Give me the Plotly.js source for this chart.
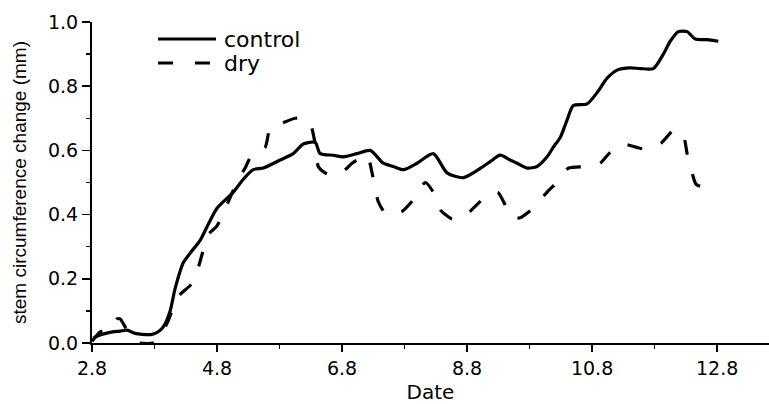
<!DOCTYPE html>
<html>
<head>
<meta charset="utf-8">
<script src="https://cdn.plot.ly/plotly-3.0.1.min.js"></script>
<style>html,body{margin:0;padding:0;background:#fff;}#chart{width:769px;height:404px;}</style>
</head>
<body>
<div id="chart"></div>
<script>
// Data
var controlX = [2.82, 2.93, 3.09, 3.25, 3.36, 3.49, 3.6, 3.76, 3.86, 3.94, 4.05, 4.13, 4.26, 4.37, 4.53, 4.66, 4.8, 5.06, 5.22, 5.38, 5.54, 5.81, 6.02, 6.18, 6.37, 6.45, 6.66, 6.82, 7.04, 7.25, 7.46, 7.62, 7.78, 8.0, 8.26, 8.48, 8.74, 9.06, 9.17, 9.33, 9.49, 9.6, 9.76, 9.92, 10.08, 10.18, 10.29, 10.4, 10.5, 10.72, 10.88, 11.04, 11.2, 11.41, 11.57, 11.78, 11.94, 12.05, 12.18, 12.32, 12.45, 12.64, 12.82];
var controlY = [0.015, 0.025, 0.033, 0.037, 0.04, 0.03, 0.027, 0.027, 0.035, 0.05, 0.10, 0.17, 0.25, 0.28, 0.32, 0.37, 0.42, 0.47, 0.51, 0.54, 0.545, 0.57, 0.59, 0.62, 0.625, 0.59, 0.585, 0.58, 0.59, 0.60, 0.56, 0.55, 0.54, 0.56, 0.59, 0.53, 0.515, 0.55, 0.565, 0.585, 0.57, 0.56, 0.545, 0.55, 0.58, 0.61, 0.64, 0.695, 0.74, 0.745, 0.78, 0.825, 0.85, 0.857, 0.855, 0.855, 0.9, 0.94, 0.97, 0.97, 0.947, 0.945, 0.94];
var dryX = [2.8, 2.93, 3.09, 3.2, 3.25, 3.36, 3.47, 3.57, 3.78, 3.89, 4.02, 4.18, 4.42, 4.66, 4.8, 4.98, 5.14, 5.25, 5.38, 5.57, 5.65, 5.84, 6.05, 6.18, 6.29, 6.37, 6.42, 6.53, 6.66, 6.85, 6.96, 7.2, 7.28, 7.38, 7.49, 7.62, 7.76, 7.94, 8.13, 8.26, 8.37, 8.56, 8.72, 8.85, 9.04, 9.22, 9.3, 9.41, 9.52, 9.65, 9.86, 10.08, 10.26, 10.42, 10.74, 10.93, 11.07, 11.28, 11.62, 11.89, 12.08, 12.16, 12.27, 12.32, 12.4, 12.46, 12.55, 12.7];
var dryY = [0.005, 0.035, 0.04, 0.075, 0.075, 0.04, 0.015, 0.0, 0.0, 0.02, 0.07, 0.145, 0.19, 0.337, 0.365, 0.44, 0.51, 0.545, 0.595, 0.61, 0.67, 0.685, 0.70, 0.70, 0.685, 0.62, 0.55, 0.53, 0.52, 0.54, 0.56, 0.585, 0.53, 0.44, 0.405, 0.40, 0.41, 0.446, 0.5, 0.47, 0.415, 0.386, 0.39, 0.41, 0.446, 0.47, 0.468, 0.43, 0.39, 0.39, 0.42, 0.47, 0.505, 0.545, 0.55, 0.56, 0.59, 0.62, 0.605, 0.62, 0.66, 0.665, 0.64, 0.59, 0.53, 0.495, 0.487, 0.485];
var seriesNames = ['control', 'dry'];
var xTickVals = [2.8, 4.8, 6.8, 8.8, 10.8, 12.8];
var yTickVals = [0.0, 0.2, 0.4, 0.6, 0.8, 1.0];
var xTitle = 'Date';
var yTitle = 'stem circumference change (mm)';

// layout geometry (pixels)
var L = 92, R = 0, T = 22, B = 61, W = 769, H = 404;
var pw = W - L - R, ph = H - T - B;
function px(x) { return (x - L) / pw; }
function py(y) { return (H - B - y) / ph; }

var tickFont = {family: 'DejaVu Sans, sans-serif', size: 19, color: '#000'};

var traces = [
  {x: controlX, y: controlY, name: seriesNames[0], mode: 'lines',
   line: {color: '#000', width: 3.2, shape: 'spline', smoothing: 0.7}, showlegend: false},
  {x: dryX, y: dryY, name: seriesNames[1], mode: 'lines',
   line: {color: '#000', width: 3.2, dash: '15px,20px', shape: 'spline', smoothing: 0.6}, showlegend: false}
];

var layout = {
  width: W, height: H,
  margin: {l: L, r: R, t: T, b: B, pad: 0},
  paper_bgcolor: '#fff', plot_bgcolor: '#fff',
  showlegend: false,
  xaxis: {
    range: [2.8, 13.63], tickvals: xTickVals, ticktext: xTickVals.map(function(v){return v.toFixed(1);}),
    ticks: 'outside', ticklen: 7, tickwidth: 1.5, tickcolor: '#000',
    minor: {tickvals: [3.8, 5.8, 7.8, 9.8, 11.8], ticks: 'outside', ticklen: 4, tickwidth: 1.5, tickcolor: '#000'},
    showline: true, linecolor: '#000', linewidth: 2, showgrid: false, zeroline: false,
    tickfont: tickFont,
    title: {text: xTitle, font: {family: 'DejaVu Sans, sans-serif', size: 20, color: '#000'}, standoff: 14}
  },
  yaxis: {
    range: [0, 1], tickvals: yTickVals, ticktext: yTickVals.map(function(v){return v.toFixed(1);}),
    ticks: 'outside', ticklen: 8, tickwidth: 1.5, tickcolor: '#000',
    minor: {tickvals: [0.1, 0.3, 0.5, 0.7, 0.9], ticks: 'outside', ticklen: 4, tickwidth: 1.5, tickcolor: '#000'},
    showline: true, linecolor: '#000', linewidth: 2, showgrid: false, zeroline: false,
    tickfont: tickFont,
    title: {text: yTitle, font: {family: 'Liberation Sans, Arial, sans-serif', size: 19, color: '#000'}, standoff: 16}
  },
  shapes: [
    {type: 'line', xref: 'paper', yref: 'paper', x0: px(158), x1: px(216), y0: py(39), y1: py(39),
     line: {color: '#000', width: 3.2}},
    {type: 'line', xref: 'paper', yref: 'paper', x0: px(158), x1: px(212), y0: py(63), y1: py(63),
     line: {color: '#000', width: 3.2, dash: '15px,22px'}}
  ],
  annotations: [
    {xref: 'paper', yref: 'paper', x: px(222), y: py(39), xanchor: 'left', yanchor: 'middle',
     text: seriesNames[0], showarrow: false, font: {family: 'DejaVu Sans, sans-serif', size: 22, color: '#000'}},
    {xref: 'paper', yref: 'paper', x: px(222), y: py(63), xanchor: 'left', yanchor: 'middle',
     text: seriesNames[1], showarrow: false, font: {family: 'DejaVu Sans, sans-serif', size: 22, color: '#000'}}
  ]
};

Plotly.newPlot('chart', traces, layout, {displayModeBar: false, staticPlot: true});
</script>
</body>
</html>
